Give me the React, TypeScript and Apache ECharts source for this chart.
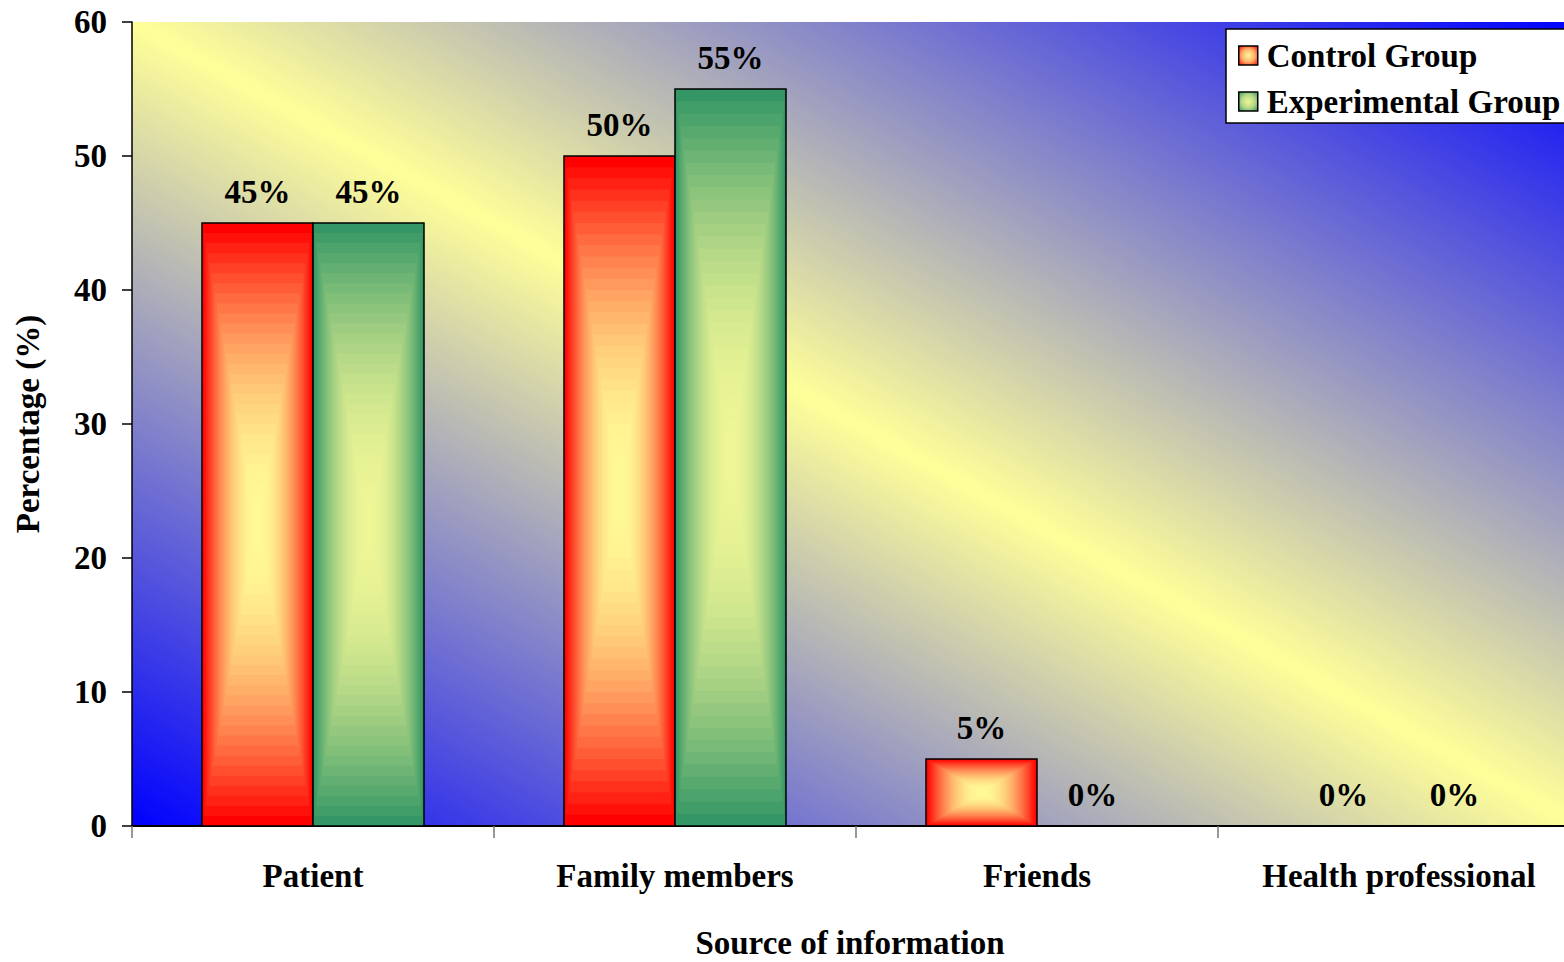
import React, { useEffect, useRef } from "react";
import * as echarts from "echarts";

// Data
const categories = ["Patient", "Family members", "Friends", "Health professional"];
const controlGroup = [45, 50, 5, 0];
const experimentalGroup = [45, 55, 0, 0];
const yTicks = [0, 10, 20, 30, 40, 50, 60];

const FONT = "'Times New Roman', 'Liberation Serif', serif";
const FS = 33;

const RED: number[] = [255, 0, 0];
const GREEN: number[] = [51, 150, 100];
const PALE: number[] = [255, 250, 150];
const PALE_GREEN: number[] = [238, 246, 150];

const STEPS = 30;
const BAR_RATIO = 111 / 362;

function mix(a: number[], b: number[], t: number): string {
  const c = a.map((v, i) => Math.round(v + (b[i] - v) * t));
  return `rgb(${c[0]},${c[1]},${c[2]})`;
}

// Rectangular "from centre" gradient built from nested rectangles
function makeRenderItem(slot: number, outer: number[], inner: number[]) {
  return (params: any, api: any) => {
    const cat = api.value(0);
    const val = api.value(1);
    const base = api.coord([cat, 0]);
    const top = api.coord([cat, val]);
    const band = api.size([1, 0])[0];
    const w = band * BAR_RATIO;
    const x0 = base[0] - w + slot * w;
    const h = base[1] - top[1];
    const children: any[] = [];
    if (h > 0) {
      for (let k = 0; k < STEPS; k++) {
        const t = k / STEPS;
        const dx = (t * w) / 2;
        const dy = (t * h) / 2;
        const u = k / (STEPS - 1);
        const eased = 1 - (1 - u) * (1 - u);
        children.push({
          type: "rect",
          shape: { x: x0 + dx, y: top[1] + dy, width: w - 2 * dx, height: h - 2 * dy },
          style: { fill: mix(outer, inner, eased) },
        });
      }
      children.push({
        type: "rect",
        shape: { x: x0, y: top[1], width: w, height: h },
        style: { fill: "none", stroke: "#000", lineWidth: 1.5 },
      });
    }
    children.push({
      type: "text",
      x: x0 + w / 2,
      y: top[1] - 31,
      style: {
        text: `${val}%`,
        fill: "#000",
        fontSize: FS,
        fontWeight: "bold",
        fontFamily: FONT,
        align: "center",
        verticalAlign: "middle",
      },
    });
    return { type: "group", children };
  };
}

function legendIcon(outer: number[], inner: number[]) {
  return {
    type: "radial",
    x: 0.5,
    y: 0.5,
    r: 0.7,
    colorStops: [
      { offset: 0, color: mix(outer, inner, 1) },
      { offset: 0.5, color: mix(outer, inner, 0.7) },
      { offset: 1, color: mix(outer, inner, 0) },
    ],
  };
}

// Plot-area background: diagonal blue / pale yellow / blue bands
const GRID = { left: 132, top: 22, width: 1448, height: 804 };
function backgroundGradient() {
  const cx = GRID.left + GRID.width / 2;
  const cy = GRID.top + GRID.height / 2;
  const L = Math.hypot(GRID.width, GRID.height);
  const nx = GRID.height / L;
  const ny = -GRID.width / L;
  const d = (GRID.width / 2) * nx + (GRID.height / 2) * Math.abs(ny);
  return {
    type: "linear",
    global: true,
    x: cx - d * nx,
    y: cy - d * ny,
    x2: cx + d * nx,
    y2: cy + d * ny,
    colorStops: [
      { offset: 0, color: "#0000ff" },
      { offset: 0.5, color: "#ffff99" },
      { offset: 1, color: "#0000ff" },
    ],
  };
}

export default function App() {
  const ref = useRef<HTMLDivElement>(null);

  useEffect(() => {
    if (!ref.current) return;
    const chart = echarts.init(ref.current, undefined, { renderer: "svg" });
    const textBase = { fontFamily: FONT, fontWeight: "bold" as const, fontSize: FS, color: "#000" };

    chart.setOption({
      animation: false,
      backgroundColor: "#ffffff",
      grid: {
        left: GRID.left,
        top: GRID.top,
        width: GRID.width,
        height: GRID.height,
        outerBoundsMode: "none",
        containLabel: false,
        show: true,
        backgroundColor: backgroundGradient(),
        borderWidth: 0,
      },
      legend: {
        left: 1226,
        top: 29,
        orient: "vertical",
        padding: [10, 60, 5, 12],
        itemGap: 13,
        itemWidth: 19,
        itemHeight: 19,
        backgroundColor: "#ffffff",
        borderColor: "#000",
        borderWidth: 1.5,
        icon: "rect",
        selectedMode: false,
        textStyle: { ...textBase, padding: [0, 0, 0, 4] },
        data: [
          {
            name: "Control Group",
            itemStyle: { color: legendIcon(RED, PALE), borderColor: "#000", borderWidth: 1.5 },
          },
          {
            name: "Experimental Group",
            itemStyle: { color: legendIcon(GREEN, PALE_GREEN), borderColor: "#000", borderWidth: 1.5 },
          },
        ],
      },
      xAxis: {
        type: "category",
        data: categories,
        boundaryGap: true,
        name: "Source of information",
        nameLocation: "middle",
        nameGap: 100,
        nameTextStyle: { ...textBase, padding: [0, 12, 0, 0] },
        axisLine: { show: true, lineStyle: { color: "#000", width: 2 } },
        axisTick: { show: true, length: 12, lineStyle: { color: "#777", width: 1.5 } },
        axisLabel: { ...textBase, margin: 33 },
        splitLine: { show: false },
      },
      yAxis: {
        type: "value",
        min: yTicks[0],
        max: yTicks[yTicks.length - 1],
        interval: 10,
        name: "Percentage (%)",
        nameLocation: "middle",
        nameGap: 88,
        nameTextStyle: textBase,
        axisLine: { show: true, lineStyle: { color: "#000", width: 1.5 } },
        axisTick: { show: true, length: 10, lineStyle: { color: "#000", width: 1.5 } },
        axisLabel: { ...textBase, margin: 25 },
        splitLine: { show: false },
      },
      series: [
        {
          name: "Control Group",
          type: "custom",
          renderItem: makeRenderItem(0, RED, PALE),
          itemStyle: { color: legendIcon(RED, PALE) },
          encode: { x: 0, y: 1 },
          data: controlGroup.map((v, i) => [i, v]),
          clip: false,
        },
        {
          name: "Experimental Group",
          type: "custom",
          renderItem: makeRenderItem(1, GREEN, PALE_GREEN),
          itemStyle: { color: legendIcon(GREEN, PALE_GREEN) },
          encode: { x: 0, y: 1 },
          data: experimentalGroup.map((v, i) => [i, v]),
          clip: false,
        },
      ],
    });

    return () => chart.dispose();
  }, []);

  return (
    <div
      ref={ref}
      style={{ position: "absolute", left: 0, top: 0, width: 1564, height: 962 }}
    />
  );
}
